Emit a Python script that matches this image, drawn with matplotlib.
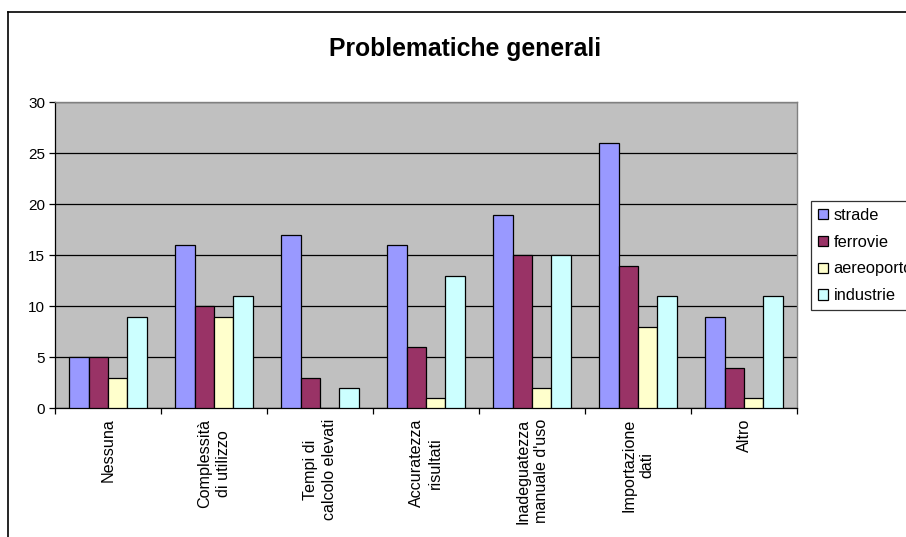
import matplotlib
matplotlib.use("Agg")
import matplotlib.pyplot as plt
import numpy as np
from matplotlib.lines import Line2D
from matplotlib.patches import Patch

plt.rcParams['font.family'] = ['Liberation Sans', 'DejaVu Sans']

categories = ["Nessuna", "Complessità\ndi utilizzo", "Tempi di\ncalcolo elevati",
              "Accuratezza\nrisultati", "Inadeguatezza\nmanuale d'uso",
              "Importazione\ndati", "Altro"]
series_names = ["strade", "ferrovie", "aereoporto", "industrie"]
strade = [5, 16, 17, 16, 19, 26, 9]
ferrovie = [5, 10, 3, 6, 15, 14, 4]
aereoporto = [3, 9, 0, 1, 2, 8, 1]
industrie = [9, 11, 2, 13, 15, 11, 11]
y_ticks = [0, 5, 10, 15, 20, 25, 30]
title = "Problematiche generali"

colors = ["#9999FF", "#993366", "#FFFFCC", "#CCFFFF"]
values = [strade, ferrovie, aereoporto, industrie]

W, H = 906, 537
fig = plt.figure(figsize=(W / 100, H / 100), dpi=100)

left, right, top, bottom = 55, 797, 102.3, 408.3
ax = fig.add_axes([left / W, 1 - bottom / H, (right - left) / W, (bottom - top) / H])
ax.set_facecolor("#C0C0C0")

n = len(categories)
x = np.arange(n)
bw = 1 / 5.5
for i, (vals, c) in enumerate(zip(values, colors)):
    ax.bar(x + (i - 1.5) * bw, vals, width=bw, color=c, edgecolor="black",
           linewidth=0.9, zorder=3, label=series_names[i])

ax.set_xlim(-0.5, n - 0.5)
ax.set_ylim(0, 30)
ax.set_yticks(y_ticks)
ax.yaxis.grid(True, color="black", linewidth=0.9, zorder=1)
ax.set_axisbelow(True)

ax.set_xticks(np.arange(n + 1) - 0.5)
ax.set_xticklabels([])
ax.set_xticks(x, minor=True)
ax.set_xticklabels(categories, minor=True, rotation=90, fontsize=11.6,
                   multialignment="center", va="top", ha="center", linespacing=1.3)
ax.tick_params(axis="x", which="major", direction="out", length=4, width=0.9, color="black")
ax.tick_params(axis="x", which="minor", length=0, pad=7.5)
ax.tick_params(axis="y", direction="out", length=4, width=0.9, labelsize=11, pad=3)

for s in ["left", "bottom"]:
    ax.spines[s].set_color("black")
    ax.spines[s].set_linewidth(0.9)
for s in ["top", "right"]:
    ax.spines[s].set_color("#808080")
    ax.spines[s].set_linewidth(1.0)

fig.text(465 / W, 1 - 49 / H, title, ha="center", va="center", fontsize=17.8, fontweight="bold")

handles = [Patch(facecolor=c, edgecolor="black", linewidth=0.9) for c in colors]
leg = fig.legend(handles, series_names, loc="upper left",
                 bbox_to_anchor=(811 / W, 1 - 201 / H), frameon=True, fancybox=False,
                 fontsize=11.8, handlelength=0.6, handleheight=0.6, handletextpad=0.35,
                 labelspacing=0.72, borderpad=0.42, borderaxespad=0)
leg.get_frame().set_edgecolor("black")
leg.get_frame().set_linewidth(0.9)

# outer chart border (top and left visible)
fig.add_artist(Line2D([8 / W, 8 / W], [0, 1 - 12 / H], transform=fig.transFigure,
                      color="black", linewidth=1.2))
fig.add_artist(Line2D([8 / W, 1], [1 - 12 / H, 1 - 12 / H], transform=fig.transFigure,
                      color="black", linewidth=1.2))

fig.savefig("out.png", dpi=100)
